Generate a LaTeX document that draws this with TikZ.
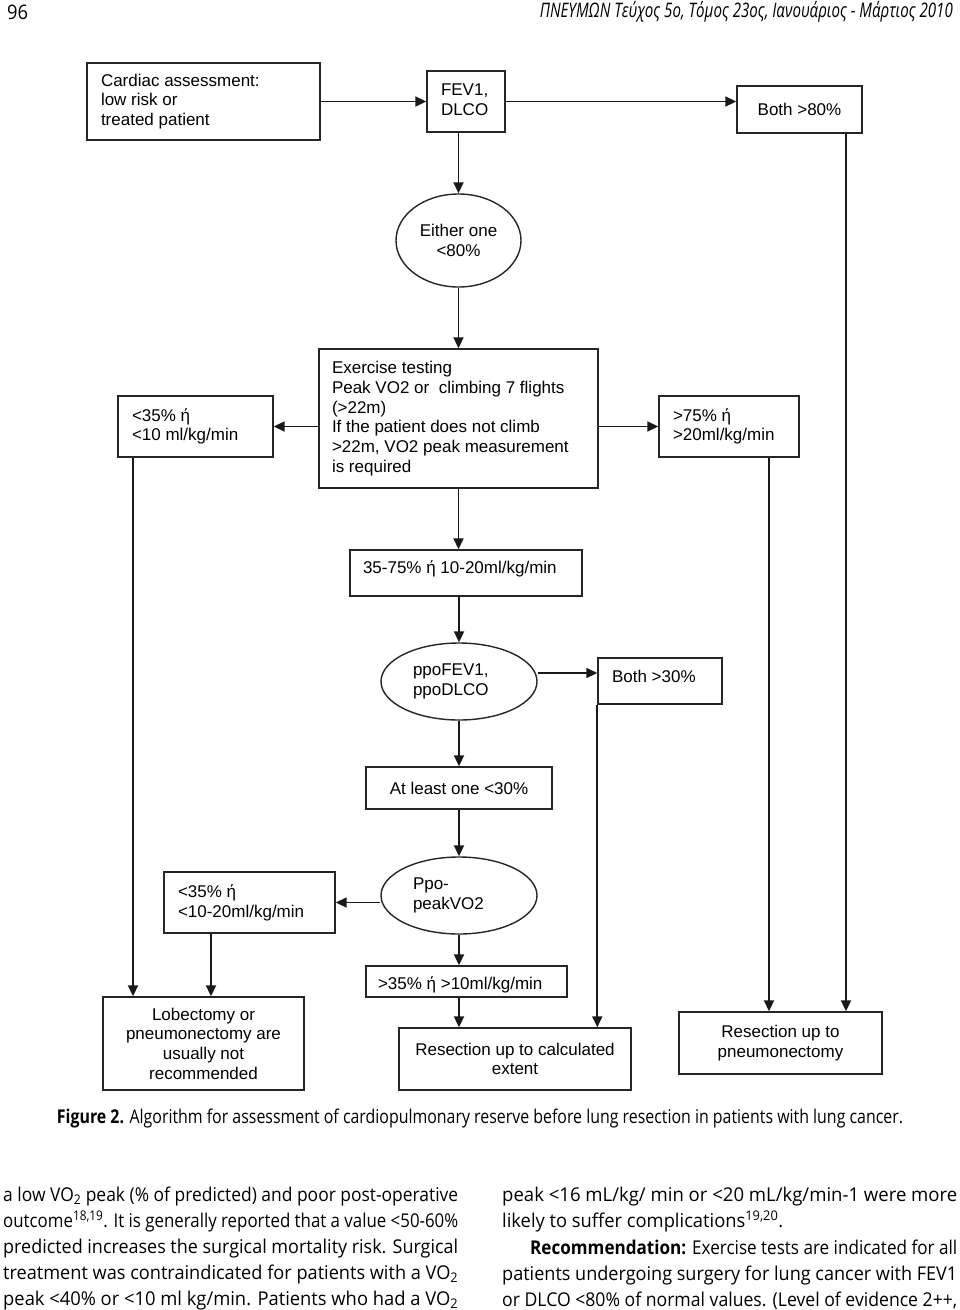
\documentclass[tikz,border=0pt]{standalone}
\usepackage{fontspec}
\setmainfont{Liberation Sans}
\newfontfamily\txtfont{Open Sans}
\usetikzlibrary{arrows.meta,shapes.geometric}
\begin{document}
\begin{tikzpicture}[x=1pt,y=-1pt,
  dfont/.style={font=\fontsize{17}{19.7}\selectfont},
  box/.style={draw=black!85, line width=1.4pt, rectangle, inner sep=0pt, dfont},
  oval/.style={draw=black!85, line width=1.4pt, ellipse, inner sep=0pt, dfont},
  arr/.style={line width=1.8pt, draw=black!90, -{Triangle[length=11pt,width=10pt]}},
  body/.style={anchor=base west, inner sep=0pt, font=\txtfont\fontsize{19}{26}\selectfont},
  head/.style={inner sep=0pt, font=\txtfont\fontsize{20}{22}\selectfont}
]
\useasboundingbox (0,0) rectangle (960,1310);
\fill[white] (0,0) rectangle (960,1310);

% header
\node[head, anchor=west] (pgno) at (7,12) {\resizebox{21pt}{\height}{96}};
\node[head, anchor=east] (journal) at (953,12) {\resizebox{413pt}{\height}{\itshape ΠΝΕΥΜΩΝ Τεύχος 5ο, Τόμος 23ος, Ιανουάριος - Μάρτιος 2010}};

% boxes
\node[box, minimum width=233pt, minimum height=77pt] (card) at (203.5,101.5)
  {\parbox{205pt}{\raggedright Cardiac assessment:\\low risk or\\treated patient}};
\node[box, minimum width=78pt, minimum height=61pt] (fev) at (466,101.5)
  {\parbox{50pt}{\raggedright FEV1,\\DLCO\vspace{4pt}}};
\node[box, minimum width=125pt, minimum height=47pt] (b80) at (799.5,109.5) {Both >80\%};
\node[oval, minimum width=125pt, minimum height=93pt, align=center] (e80) at (458.5,240.5)
  {Either one\\<80\%};
\node[box, minimum width=279pt, minimum height=139pt] (ex) at (458.5,418.5)
  {\parbox{253pt}{\raggedright Exercise testing\\Peak VO2 or\ \ climbing 7 flights\\(>22m)\\If the patient does not climb\\>22m, VO2 peak measurement\\is required}};
\node[box, minimum width=155pt, minimum height=61pt] (lt10) at (195.5,426.5)
  {\parbox{127pt}{\raggedright <35\% ή\\<10 ml/kg/min}};
\node[box, minimum width=140pt, minimum height=61pt] (gt75) at (729,426.5)
  {\parbox{112pt}{\raggedright >75\% ή\\>20ml/kg/min}};
\node[box, minimum width=232pt, text height=23pt, text depth=23pt] (mid) at (466,573)
  {\makebox[206pt][l]{35-75\% ή 10-20ml/kg/min}};
\node[oval, minimum width=156pt, minimum height=77pt] (ppo) at (459,681.5)
  {\parbox{92pt}{\raggedright ppoFEV1,\\ppoDLCO}};
\node[box, minimum width=124pt, text height=24pt, text depth=22pt] (b30) at (660,681)
  {\makebox[96pt][l]{Both >30\%}};
\node[box, minimum width=186pt, minimum height=42pt] (atl) at (459,788) {At least one <30\%};
\node[oval, minimum width=156pt, minimum height=77pt] (pp2) at (459,895.5)
  {\parbox{92pt}{\raggedright Ppo-\\peakVO2}};
\node[box, minimum width=171pt, minimum height=61pt] (lt20) at (249.5,902.5)
  {\parbox{143pt}{\raggedright <35\% ή\\<10-20ml/kg/min}};
\node[box, minimum width=201pt, text height=23pt, text depth=8pt] (gt35) at (466.5,981.5)
  {\makebox[177pt][l]{>35\% ή >10ml/kg/min}};
\node[box, minimum width=201pt, minimum height=93pt, align=center] (lob) at (203.5,1043.5)
  {Lobectomy or\\pneumonectomy are\\usually not\\recommended};
\node[box, minimum width=232pt, minimum height=62pt, align=center] (rc) at (515,1059)
  {Resection up to calculated\\extent};
\node[box, minimum width=203pt, minimum height=62pt, align=center] (rp) at (780.5,1043)
  {Resection up to\\pneumonectomy};

% connector positions
\coordinate (xL) at (133,0);
\coordinate (xM) at (211,0);
\coordinate (xG) at (769,0);
\coordinate (xB) at (846,0);
\coordinate (yP) at (0,673);

% connectors
\draw[arr] (card) -- (fev);
\draw[arr] (fev.east) -- (fev.east -| b80.west);
\draw[arr] (fev.south -| e80.north) -- (e80.north);
\draw[arr] (e80.south) -- (ex.north);
\draw[arr] (lt10.east -| ex.west) -- (lt10.east);
\draw[arr] (gt75.west -| ex.east) -- (gt75.west);
\draw[arr] (lt10.south -| xL) -- (lob.north -| xL);
\draw[arr] (lt20.south -| xM) -- (lob.north -| xM);
\draw[arr] (gt75.south -| xG) -- (rp.north -| xG);
\draw[arr] (b80.south -| xB) -- (rp.north -| xB);
\draw[arr] (ex.south) -- (ex.south |- mid.north);
\draw[arr] (mid.south -| ppo.north) -- (ppo.north);
\draw[arr] (ppo.east |- yP) -- (b30.west |- yP);
\draw[arr] (b30.south west) -- (b30.south west |- rc.north);
\draw[arr] (ppo.south) -- (atl.north);
\draw[arr] (atl.south) -- (pp2.north);
\draw[arr] (pp2.west |- lt20.east) -- (lt20.east);
\draw[arr] (pp2.south) -- (pp2.south |- gt35.north);
\draw[arr] (gt35.south -| pp2.south) -- (rc.north -| pp2.south);

% caption
\node[head, font=\txtfont\fontsize{19}{22}\selectfont] (cap) at (480,1118)
  {\resizebox{846pt}{\height}{\textbf{Figure 2.} Algorithm for assessment of cardiopulmonary reserve before lung resection in patients with lung cancer.}};

% body text, left column
\node[body] (l1) at (3,1201) {\resizebox{455pt}{\height}{a low VO\textsubscript{2} peak (\% of predicted) and poor post-operative}};
\node[body] (l2) at (3,1227) {\resizebox{455pt}{\height}{outcome\textsuperscript{18,19}. It is generally reported that a value <50-60\%}};
\node[body] (l3) at (3,1253) {\resizebox{455pt}{\height}{predicted increases the surgical mortality risk. Surgical}};
\node[body] (l4) at (3,1279) {\resizebox{455pt}{\height}{treatment was contraindicated for patients with a VO\textsubscript{2}}};
\node[body] (l5) at (3,1305) {\resizebox{455pt}{\height}{peak <40\% or <10 ml kg/min. Patients who had a VO\textsubscript{2}}};
% right column
\node[body] (r1) at (502,1201) {\resizebox{455pt}{\height}{peak <16 mL/kg/ min or <20 mL/kg/min-1 were more}};
\node[body] (r2) at (502,1227) {\resizebox{281pt}{\height}{likely to suffer complications\textsuperscript{19,20}.}};
\node[body] (r3) at (530,1254) {\resizebox{427pt}{\height}{\textbf{Recommendation:} Exercise tests are indicated for all}};
\node[body] (r4) at (502,1280) {\resizebox{455pt}{\height}{patients undergoing surgery for lung cancer with FEV1}};
\node[body] (r5) at (502,1306) {\resizebox{455pt}{\height}{or DLCO <80\% of normal values. (Level of evidence 2++,}};
\end{tikzpicture}
\end{document}
